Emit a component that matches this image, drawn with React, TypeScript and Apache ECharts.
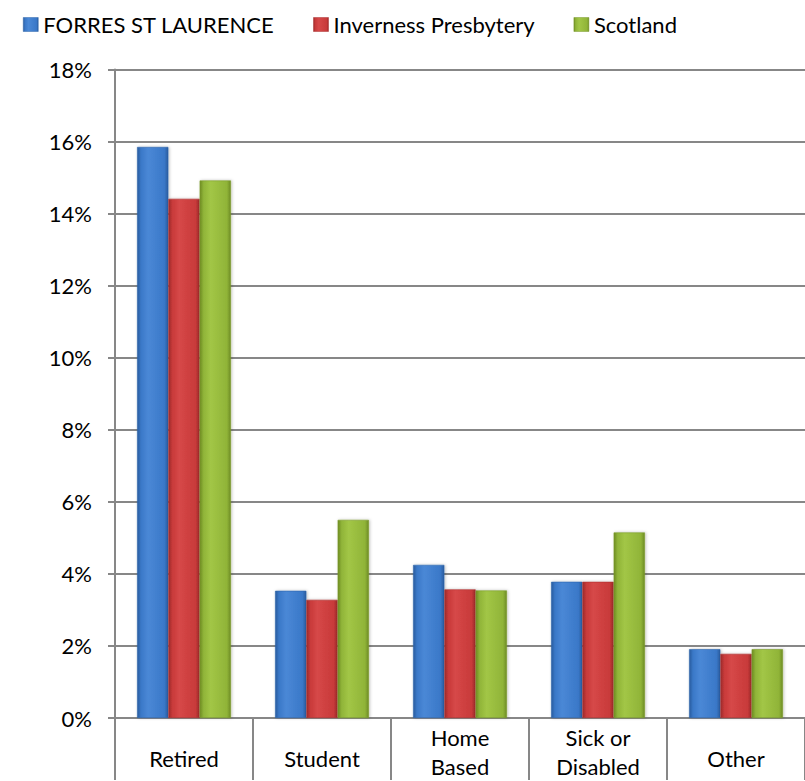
import React, { useEffect, useRef } from "react";
import * as echarts from "echarts";

const categories = ["Retired", "Student", "Home\nBased", "Sick or\nDisabled", "Other"];
const seriesNames = ["FORRES ST LAURENCE", "Inverness Presbytery", "Scotland"];
const forres = [15.85, 3.53, 4.25, 3.78, 1.91];
const inverness = [14.41, 3.28, 3.57, 3.78, 1.78];
const scotland = [14.92, 5.5, 3.54, 5.15, 1.91];
const yTicks = { min: 0, max: 18, interval: 2 };

const FONT = "Lato";

function barGradient(edge: string, mid: string, light: string) {
  return new echarts.graphic.LinearGradient(0, 0, 1, 0, [
    { offset: 0, color: edge },
    { offset: 0.12, color: mid },
    { offset: 0.35, color: light },
    { offset: 0.88, color: mid },
    { offset: 1, color: edge },
  ]);
}

export default function App() {
  const ref = useRef<HTMLDivElement>(null);
  useEffect(() => {
    if (!ref.current) return;
    const chart = echarts.init(ref.current, undefined, { renderer: "svg" });
    const colors = [
      barGradient("#2a5c9e", "#3a78c8", "#4a88d6"),
      barGradient("#9c2a2a", "#c83a3a", "#d64848"),
      barGradient("#6e8c24", "#90b438", "#a2c646"),
    ];
    const solid = ["#2f66ad", "#ad3030", "#7a9a2c"];
    const data = [forres, inverness, scotland];
    const legendKeys = ["a", "b", "c"];
    chart.setOption({
      animation: false,
      backgroundColor: "#ffffff",
      legend: {
        left: 18,
        top: 8.5,
        itemWidth: 15,
        itemHeight: 14,
        itemGap: 39,
        icon: "rect",
        formatter: (name: string) => "{" + legendKeys[seriesNames.indexOf(name)] + "|" + name + "}",
        textStyle: {
          fontFamily: FONT,
          fontSize: 22,
          color: "#000",
          rich: {
            a: { fontFamily: FONT, fontSize: 22, color: "#000", width: 218, align: "left" },
            b: { fontFamily: FONT, fontSize: 22, color: "#000", width: 209, align: "left" },
            c: { fontFamily: FONT, fontSize: 22, color: "#000", width: 86, align: "left" },
          },
        },
        data: seriesNames.map((n, i) => ({ name: n, itemStyle: { color: colors[i], borderColor: solid[i], borderWidth: 0.5 } })),
      },
      grid: { left: 115, right: -3, top: 69.5, bottom: 60.5, containLabel: false },
      xAxis: {
        type: "category",
        data: categories,
        axisLine: { lineStyle: { color: "#878787", width: 2 } },
        axisTick: { show: true, length: 62, lineStyle: { color: "#878787", width: 2 } },
        axisLabel: {
          interval: 0,
          margin: 5,
          color: "#000",
          fontFamily: FONT,
          fontSize: 22,
          lineHeight: 29,
          verticalAlign: "top",
          formatter: (v: string) => (v.indexOf("\n") >= 0 ? v : "{s|" + v + "}"),
          rich: { s: { fontFamily: FONT, fontSize: 22, color: "#000", lineHeight: 30, padding: [40, 0, 0, 0] } },
        },
      },
      yAxis: {
        type: "value",
        min: yTicks.min,
        max: yTicks.max,
        interval: yTicks.interval,
        axisLine: { show: true, lineStyle: { color: "#878787", width: 2 } },
        axisTick: { show: true, length: 7, lineStyle: { color: "#878787", width: 2 } },
        splitLine: { lineStyle: { color: "#878787", width: 2 } },
        axisLabel: { formatter: "{value}%", margin: 23, color: "#000", fontFamily: FONT, fontSize: 22 },
      },
      series: seriesNames.map((n, i) => ({
        name: n,
        type: "bar",
        data: data[i],
        barGap: "0%",
        barCategoryGap: "32%",
        itemStyle: {
          color: colors[i],
          borderColor: solid[i],
          borderWidth: 0.6,
          shadowBlur: 3,
          shadowColor: "rgba(0,0,0,0.25)",
          shadowOffsetX: 1,
          shadowOffsetY: 0,
        },
      })),
    });
    return () => chart.dispose();
  }, []);
  return <div ref={ref} style={{ position: "absolute", left: 0, top: 0, width: 805, height: 781, overflow: "hidden" }} />;
}
